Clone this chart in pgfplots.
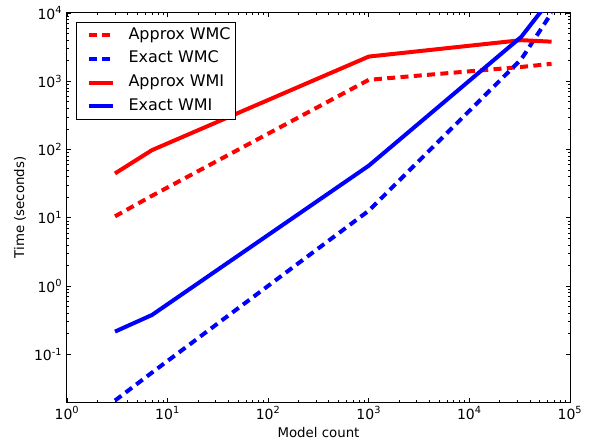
\documentclass[border=0pt]{standalone}
\usepackage{fontspec}
\setmainfont{DejaVu Sans}
\usepackage{pgfplots}
\pgfplotsset{compat=1.18}
\begin{document}
\begin{tikzpicture}
\begin{axis}[
  xmode=log, ymode=log,
  scale only axis, width=377.25pt, height=291.75pt,
  xmin=1, xmax=1e5, ymin=0.02, ymax=1e4,
  xtick={1,10,100,1000,10000,100000},
  xticklabels={10\textsuperscript{0},10\textsuperscript{1},10\textsuperscript{2},10\textsuperscript{3},10\textsuperscript{4},10\textsuperscript{5}},
  ytick={0.1,1,10,100,1000,10000},
  yticklabels={10\textsuperscript{-1},10\textsuperscript{0},10\textsuperscript{1},10\textsuperscript{2},10\textsuperscript{3},10\textsuperscript{4}},
  tick align=inside,
  major tick length=3pt, minor tick length=1.5pt,
  tick style={black, line width=0.5pt},
  axis line style={line width=0.75pt},
  ticklabel style={font=\fontsize{10.5}{12}\selectfont},
  xlabel={Model count}, ylabel={Time (seconds)},
  label style={font=\fontsize{10}{12}\selectfont},
  xlabel style={at={(axis description cs:0.5,-0.0797)}, anchor=center},
  ylabel style={at={(axis description cs:-0.0934,0.5)}, anchor=center},
  legend style={at={(axis description cs:0.0179,0.9777)}, anchor=north west, draw=black, line width=0.75pt,
    font=\fontsize{12}{14}\selectfont, inner xsep=3.75pt, inner ysep=3.8pt,
    row sep=5.8pt, column sep=10.5pt,
    nodes={inner sep=0pt, text height=9pt, text depth=3pt}},
  legend cell align=left,
  legend image code/.code={\path (-3.75pt,0pt); \draw[#1] (0pt,0pt) -- (18pt,0pt);},
]
\addplot[red, line width=3pt, dash pattern=on 6pt off 4pt] coordinates {(3,10.5) (7,21) (1000,1050) (32768,1620) (65536,1800)};
\addlegendentry{Approx WMC}
\addplot[blue, line width=3pt, dash pattern=on 6pt off 4pt] coordinates {(3,0.021) (7,0.054) (1000,12.7) (32768,2100) (65536,10000)};
\addlegendentry{Exact WMC}
\addplot[red, line width=3pt] coordinates {(3,44.6) (7,98) (1000,2300) (32768,4000) (65536,3800)};
\addlegendentry{Approx WMI}
\addplot[blue, line width=3pt] coordinates {(3,0.215) (7,0.377) (1000,58) (32768,4470) (65536,16600)};
\addlegendentry{Exact WMI}
\coordinate (ll) at (rel axis cs:0,0);
\coordinate (ur) at (rel axis cs:1,1);
\end{axis}
\pgfresetboundingbox
\path ([shift={(-50.25pt,-30pt)}]ll) rectangle ([shift={(16.5pt,9.75pt)}]ur);
\end{tikzpicture}
\end{document}
